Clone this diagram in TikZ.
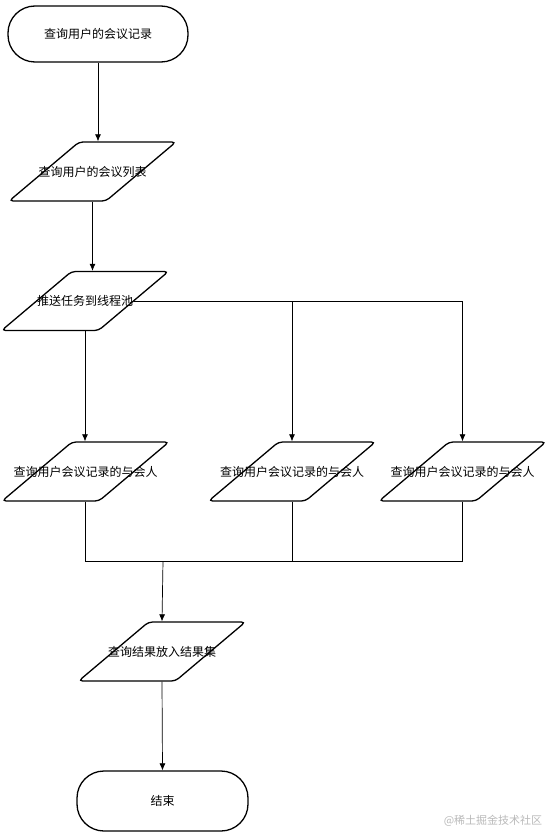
\documentclass[tikz,border=0pt]{standalone}
\usepackage{fontspec}
\newfontfamily\cjk{Noto Sans CJK SC}
\usetikzlibrary{positioning,shapes.geometric,arrows.meta}

\begin{document}
\begin{tikzpicture}[x=1pt, y=-1pt,
  font=\cjk\fontsize{12}{14}\selectfont,
  terminal/.style={draw, line width=1.3pt, rectangle, rounded corners=27pt,
    minimum width=#1, minimum height=56pt, inner sep=0pt},
  iobox/.style={draw, line width=1.3pt, trapezium, trapezium left angle=60,
    trapezium right angle=120, trapezium stretches=true, rounded corners=4pt,
    minimum width=167pt, minimum height=59pt, inner sep=2pt,
    label={center:#1}},
  flow/.style={line width=0.7pt, -{Latex[length=7pt,width=6pt]}},
  link/.style={line width=0.7pt}]
  \useasboundingbox (0,0) rectangle (549,832);

  \node[terminal=180pt] (start) at (98,34) {查询用户的会议记录};
  \node[iobox={查询用户的会议列表}] (list) at (92.5,171.5) {\strut};
  \node[iobox={推送任务到线程池}] (push) at (85,301) {\strut};

  \node[iobox={查询用户会议记录的与会人}] (attA) at (85.5,471.5) {\strut};
  \node[iobox={查询用户会议记录的与会人}] (attB) at (292,471.5) {\strut};
  \node[iobox={查询用户会议记录的与会人}] (attC) at (462.5,471.5) {\strut};
  \coordinate (join) at (163,561);

  \node[iobox={查询结果放入结果集}] (save) at (162,651.5) {\strut};
  \node[terminal=171pt, minimum height=60pt] (stop) at (162.5,801) {结束};

  \draw[flow] (start) -- (start |- list.north);
  \draw[flow] (list) -- (list |- push.north);
  \draw[flow] (push.south) -- (push.south |- attA.north);
  \draw[flow] (push.east) -| (attB.north);
  \draw[flow] (push.east) -| (attC.north);

  \draw[link] (attA.south) |- (join);
  \draw[link] (attC.south) |- (join);
  \draw[link] (attB.south) -- (attB.south |- join);
  \draw[flow] (join) -- (save.north);
  \draw[flow] (save.south) -- (stop.north);

  \node[text=gray!55, font=\cjk\fontsize{11}{13}\selectfont] (mark) at (493,821) {@稀土掘金技术社区};
\end{tikzpicture}
\end{document}
